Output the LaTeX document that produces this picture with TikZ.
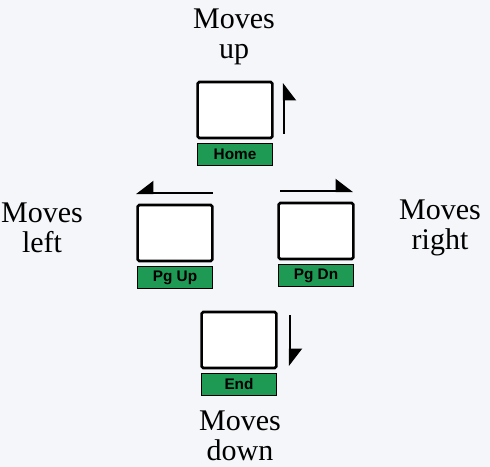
\documentclass[tikz,border=0pt]{standalone}
\usepackage{fontspec}
\setmainfont{Liberation Serif}
\newfontfamily\keyfont{Liberation Sans}
\usetikzlibrary{positioning,arrows.meta}
\definecolor{paper}{HTML}{F4F6F9}
\definecolor{keygreen}{HTML}{1F9A55}
\begin{document}
\begin{tikzpicture}[x=0.75pt, y=-0.75pt,
    keybox/.style={rectangle, draw, line width=1.9pt, rounded corners=1.2pt,
        minimum width=56pt, minimum height=42pt, fill=white},
    keylabel/.style={rectangle, draw, line width=1.2pt, fill=keygreen,
        minimum width=56pt, minimum height=16.5pt, inner sep=0pt,
        font=\keyfont\bfseries\fontsize{11.5}{11.5}\selectfont},
    moves/.style={align=center, font=\fontsize{22.5}{22.5}\selectfont},
    move/.style={line width=1.6pt, -{Triangle[harpoon, length=12pt, width=18pt]}},
    move swap/.style={line width=1.6pt, -{Triangle[harpoon, swap, length=12pt, width=18pt]}}
]
\fill[paper] (0,0) rectangle (490,467);
\useasboundingbox (0,0) rectangle (490,467);

% keys
\node (home) [keybox] at (235,110) {};
\node (homelabel) [keylabel, below=2.5pt of home] {Home};
\node (pgup) [keybox] at (175,233) {};
\node (pguplabel) [keylabel, below=2.5pt of pgup] {Pg Up};
\node (pgdn) [keybox] at (316,231) {};
\node (pgdnlabel) [keylabel, below=2.5pt of pgdn] {Pg Dn};
\node (end) [keybox] at (239,340) {};
\node (endlabel) [keylabel, below=2.5pt of end] {End};

% captions
\node (up) [moves] at (234,37) {Moves\\up};
\node (left) [moves] at (42,228) {Moves\\left};
\node (right) [moves] at (440,228) {Moves\\right};
\node (down) [moves] at (240,436) {Moves\\down};

% arrows
\coordinate (upfrom) at (284,134);
\coordinate (upto) at (284,83);
\coordinate (leftfrom) at (213,193);
\coordinate (leftto) at (136,193);
\coordinate (rightfrom) at (280,191);
\coordinate (rightto) at (353,191);
\coordinate (downfrom) at (290,315);
\coordinate (downto) at (290,366);
\draw[move swap] (upfrom) -- (upto);
\draw[move swap] (leftfrom) -- (leftto);
\draw[move] (rightfrom) -- (rightto);
\draw[move] (downfrom) -- (downto);
\end{tikzpicture}
\end{document}
